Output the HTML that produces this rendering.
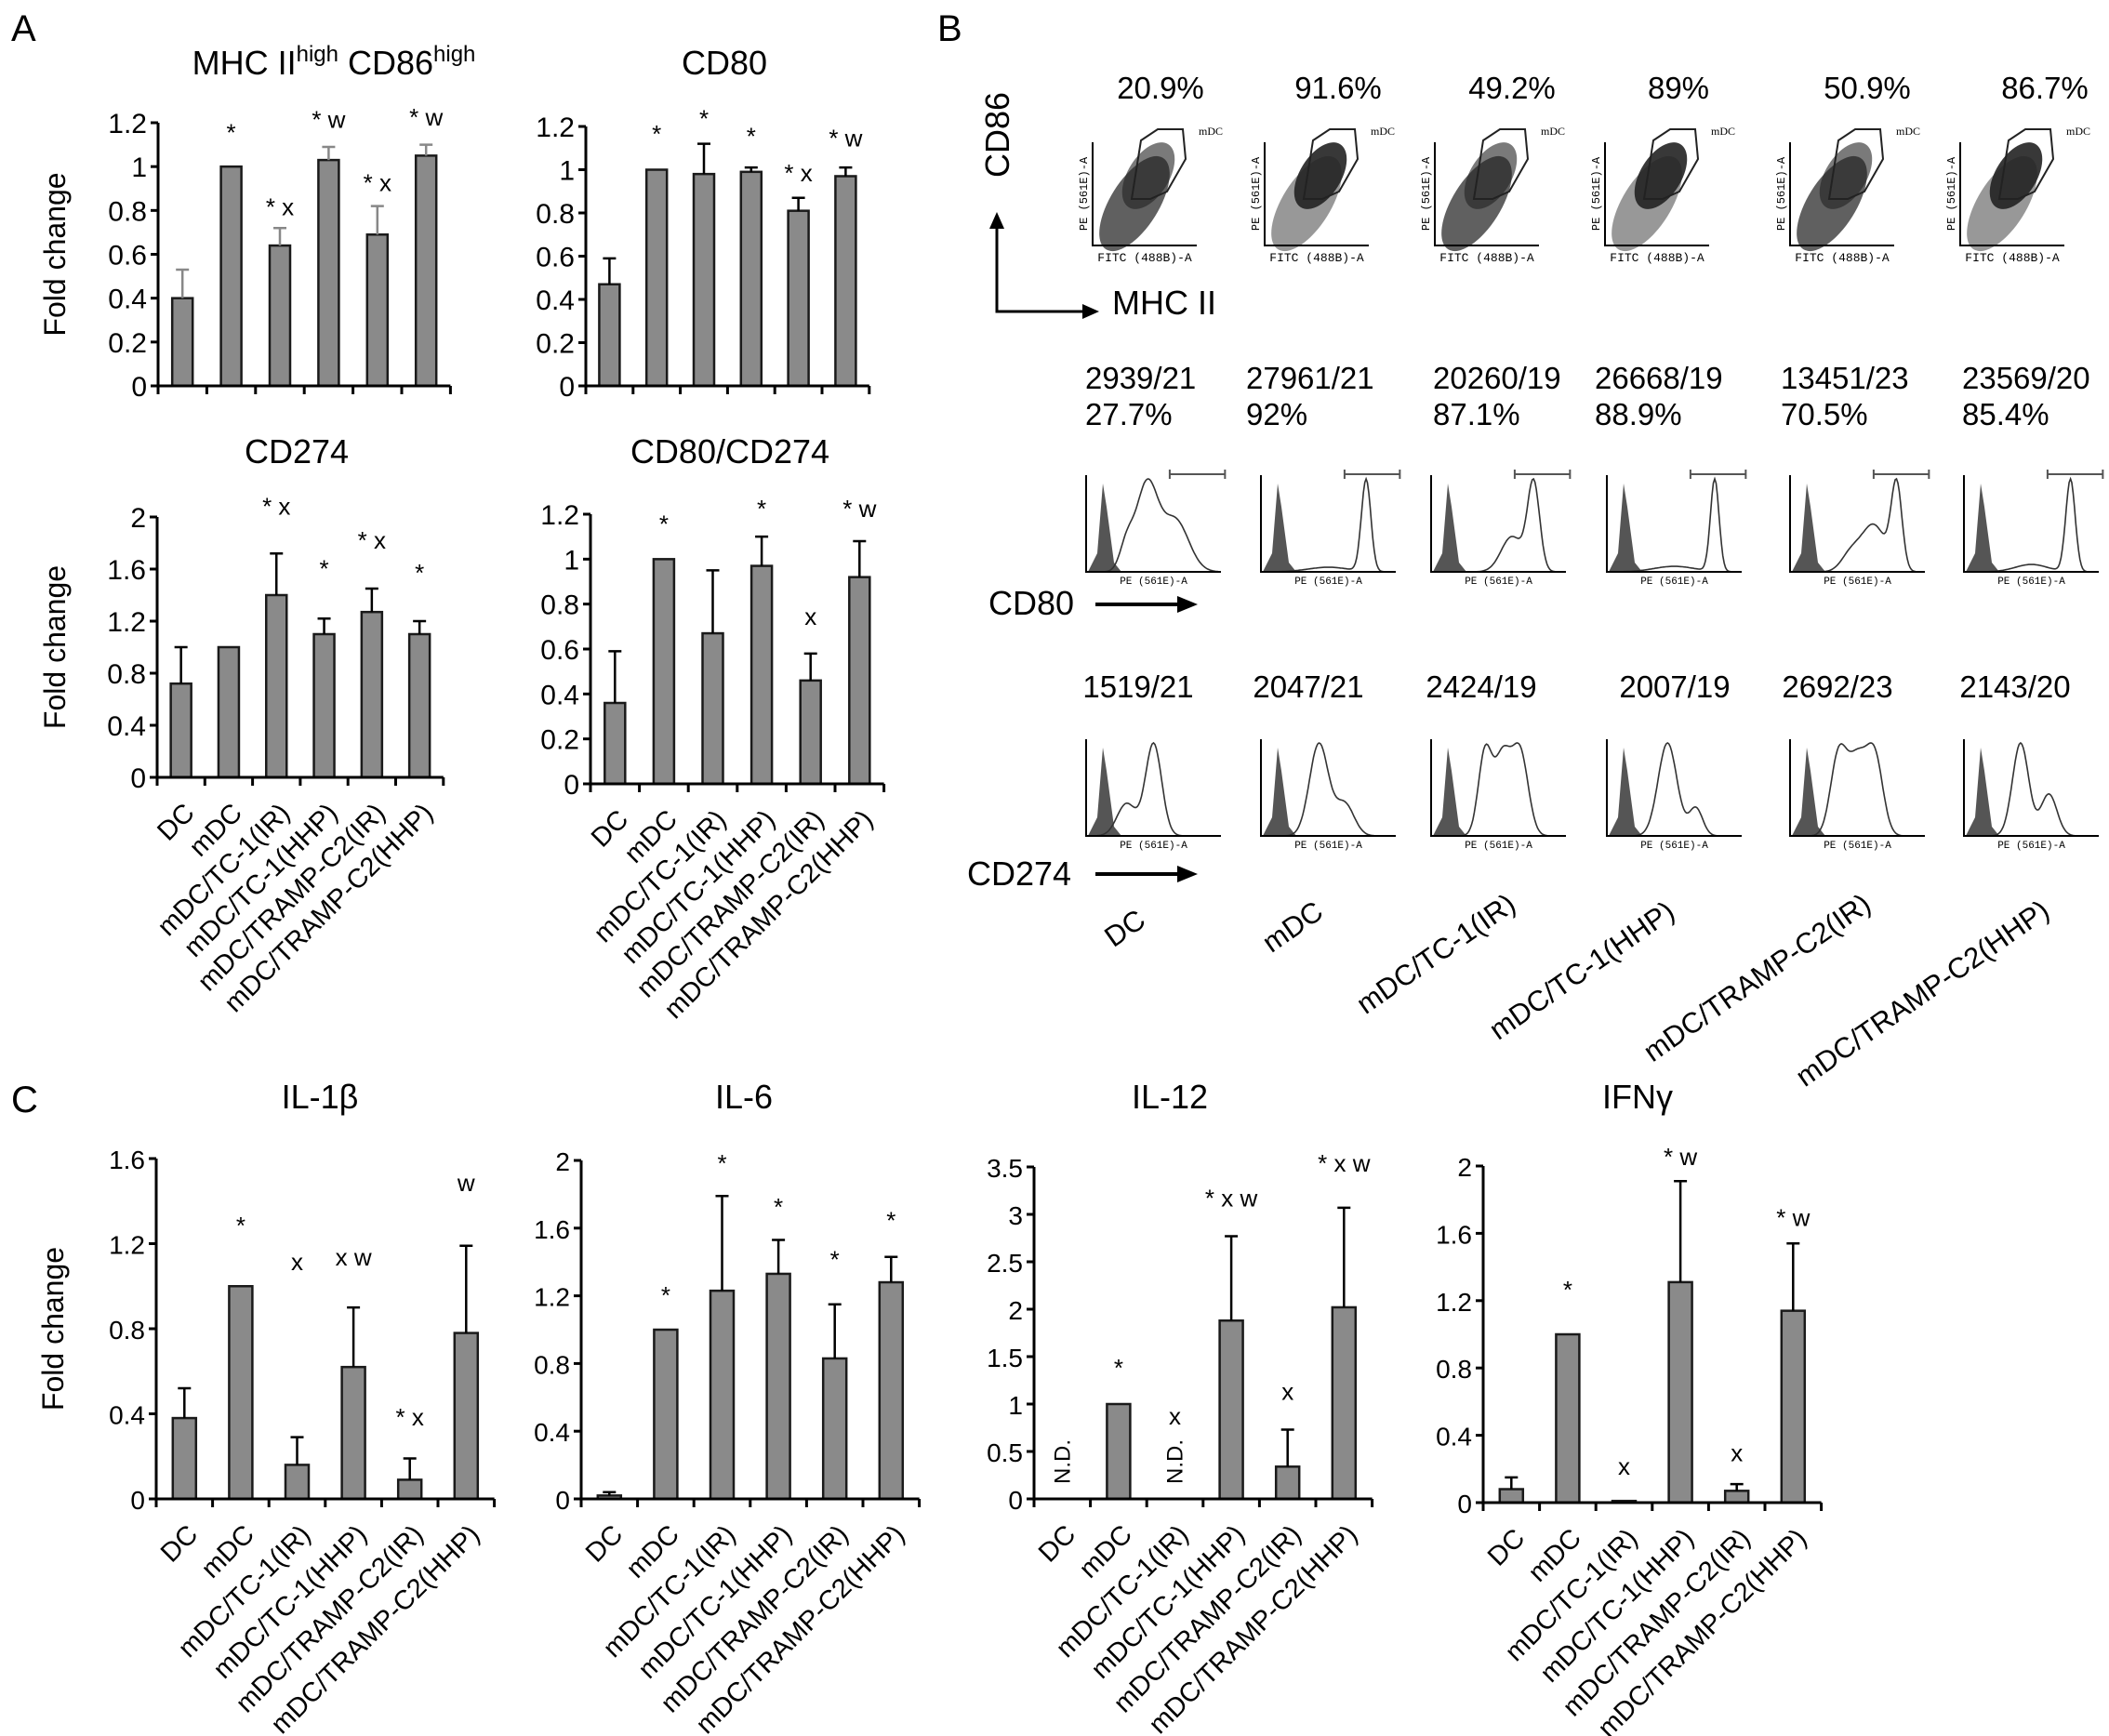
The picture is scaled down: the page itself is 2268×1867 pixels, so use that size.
<!DOCTYPE html>
<html><head><meta charset="utf-8"><style>
html,body{margin:0;padding:0;background:#fff}
svg{display:block;font-family:"Liberation Sans",Arial,sans-serif}
</style></head><body>
<svg id="fig" width="2268" height="1867" viewBox="0 0 2268 1867" xmlns="http://www.w3.org/2000/svg">
<text x="12" y="44" font-size="40">A</text>
<text x="1008" y="44" font-size="40">B</text>
<text x="12" y="1196" font-size="40">C</text>
<g id="charts"></g>
<g id="flow"></g>
</svg>
<script>
// ---------- data ----------
const categories = ["DC","mDC","mDC/TC-1(IR)","mDC/TC-1(HHP)","mDC/TRAMP-C2(IR)","mDC/TRAMP-C2(HHP)"];

const mhcVals = [0.40,1.0,0.64,1.03,0.69,1.05];
const mhcErr  = [0.53,1.0,0.72,1.09,0.82,1.10];
const mhcAnn  = ["","*","* x","* w","* x","* w"];
const mhcAnnY = [0,1.16,0.82,1.22,0.93,1.23];
const mhcTicks = [0,0.2,0.4,0.6,0.8,1,1.2];

const cd80Vals = [0.47,1.0,0.98,0.99,0.81,0.97];
const cd80Err  = [0.59,1.0,1.12,1.01,0.87,1.01];
const cd80Ann  = ["","*","*","*","* x","* w"];
const cd80AnnY = [0,1.17,1.24,1.16,0.99,1.15];
const cd80Ticks = [0,0.2,0.4,0.6,0.8,1,1.2];

const cd274Vals = [0.72,1.0,1.40,1.10,1.27,1.10];
const cd274Err  = [1.0,1.0,1.72,1.22,1.45,1.20];
const cd274Ann  = ["","","* x","*","* x","*"];
const cd274AnnY = [0,0,2.09,1.61,1.83,1.58];
const cd274Ticks = [0,0.4,0.8,1.2,1.6,2];

const ratioVals = [0.36,1.0,0.67,0.97,0.46,0.92];
const ratioErr  = [0.59,1.0,0.95,1.10,0.58,1.08];
const ratioAnn  = ["","*","","*","x","* w"];
const ratioAnnY = [0,1.16,0,1.23,0.75,1.23];
const ratioTicks = [0,0.2,0.4,0.6,0.8,1,1.2];

const il1Vals = [0.38,1.0,0.16,0.62,0.09,0.78];
const il1Err  = [0.52,1.0,0.29,0.90,0.19,1.19];
const il1Ann  = ["","*","x","x w","* x","w"];
const il1AnnY = [0,1.29,1.12,1.14,0.39,1.49];
const il1Ticks = [0,0.4,0.8,1.2,1.6];

const il6Vals = [0.02,1.0,1.23,1.33,0.83,1.28];
const il6Err  = [0.04,1.0,1.79,1.53,1.15,1.43];
const il6Ann  = ["","*","*","*","*","*"];
const il6AnnY = [0,1.21,1.99,1.73,1.42,1.65];
const il6Ticks = [0,0.4,0.8,1.2,1.6,2];

const il12Vals = [0,1.0,0,1.88,0.34,2.02];
const il12Err  = [0,1.0,0,2.77,0.73,3.07];
const il12Ann  = ["","*","x","* x w","x","* x w"];
const il12AnnY = [0,1.39,0.88,3.18,1.14,3.55];
const il12Ticks = [0,0.5,1,1.5,2,2.5,3,3.5];

const ifnVals = [0.08,1.0,0.01,1.31,0.07,1.14];
const ifnErr  = [0.15,1.0,0.01,1.91,0.11,1.54];
const ifnAnn  = ["","*","x","* w","x","* w"];
const ifnAnnY = [0,1.27,0.22,2.06,0.30,1.70];
const ifnTicks = [0,0.4,0.8,1.2,1.6,2];

// flow numbers
const pctTop = ["20.9%","91.6%","49.2%","89%","50.9%","86.7%"];
const cd80Mfi = ["2939/21","27961/21","20260/19","26668/19","13451/23","23569/20"];
const cd80Pct = ["27.7%","92%","87.1%","88.9%","70.5%","85.4%"];
const cd274Mfi = ["1519/21","2047/21","2424/19","2007/19","2692/23","2143/20"];
const cd80Peaks = [
 [[0.45,0.08,1],[0.66,0.1,0.6],[0.3,0.05,0.3]],
 [[0.78,0.035,1],[0.5,0.15,0.05]],
 [[0.76,0.045,1],[0.6,0.08,0.4]],
 [[0.8,0.032,1],[0.5,0.15,0.06]],
 [[0.79,0.04,1],[0.62,0.09,0.55],[0.45,0.07,0.2]],
 [[0.79,0.035,1],[0.5,0.12,0.08]]
];
const cd274Peaks = [
 [[0.5,0.06,1],[0.3,0.07,0.35]],
 [[0.43,0.07,1],[0.62,0.07,0.35]],
 [[0.4,0.05,0.9],[0.53,0.06,0.85],[0.66,0.06,0.9]],
 [[0.45,0.07,1],[0.66,0.05,0.3]],
 [[0.36,0.06,0.9],[0.5,0.07,0.85],[0.63,0.06,0.85]],
 [[0.42,0.06,1],[0.63,0.06,0.45]]
];

// ---------- drawing ----------
const NS="http://www.w3.org/2000/svg";
function mk(tag,attrs,parent){const e=document.createElementNS(NS,tag);for(const k in attrs)e.setAttribute(k,attrs[k]);parent.appendChild(e);return e;}
const charts=document.getElementById('charts');

function drawBar(id,geo,vals,errs,anns,annY,ticks,errColor){
  const g=mk('g',{},charts);
  
  
  const ymax=ticks[ticks.length-1];
  const yS=v=>geo.y0-(v/ymax)*(geo.y0-geo.ytop);
  const xC=i=>geo.x0+geo.sp*(i+0.5);
  const xEnd=geo.x0+geo.sp*6;
  const t=mk('text',{x:geo.tx,y:geo.ty,'font-size':36,'text-anchor':'middle'},g);
  t.textContent=geo.title;
  
  
  if(geo.sup){t.textContent='';t.innerHTML=geo.sup;}
  vals.forEach((v,i)=>{
    if(v>0){
      const r=mk('rect',{x:xC(i)-geo.bw/2,y:yS(v),width:geo.bw,height:geo.y0-yS(v),fill:'#8a8a8a',stroke:'#1a1a1a','stroke-width':2.5},g);
      
      
    }
    if(errs[i]>v+0.001){
      const el=mk('path',{d:`M${xC(i)},${yS(v)}V${yS(errs[i])}M${xC(i)-7},${yS(errs[i])}H${xC(i)+7}`,stroke:errColor,'stroke-width':2.5,fill:'none'},g);
      
      
    }
    if(anns[i]){
      const a=mk('text',{x:xC(i),y:yS(annY[i])+10,'font-size':26,'text-anchor':'middle'},g);
      a.textContent=anns[i];
      
      
    }
    if(!geo.nolabels){
      const lb=mk('text',{x:0,y:0,'font-size':geo.lf,'text-anchor':'end',transform:`translate(${xC(i)+16},${geo.y0+40}) rotate(-45)`},g);
      lb.textContent=categories[i];
      
      
    }
  });
  const ax=mk('path',{d:`M${geo.x0},${yS(ymax)}V${geo.y0}H${xEnd}`,stroke:'#000','stroke-width':3,fill:'none'},g);
  
  
  for(let k=0;k<=6;k++){mk('line',{x1:geo.x0+geo.sp*k,x2:geo.x0+geo.sp*k,y1:geo.y0,y2:geo.y0+9,stroke:'#000','stroke-width':3},g);}
  ticks.forEach(tv=>{
    mk('line',{x1:geo.x0-8,x2:geo.x0,y1:yS(tv),y2:yS(tv),stroke:'#000','stroke-width':3},g);
    const tl=mk('text',{x:geo.x0-12,y:yS(tv)+11,'font-size':geo.tf,'text-anchor':'end'},g);
    tl.textContent=String(tv);
    
    
  });
  if(geo.ylab){
    const yl=mk('text',{x:0,y:0,'font-size':32,'text-anchor':'middle',transform:`translate(${geo.ylx},${(geo.y0+yS(ymax))/2}) rotate(-90)`},g);
    yl.textContent='Fold change';
    
    
  }
  return {g,xC,yS};
}

drawBar('mhc',{x0:170,sp:52.4,bw:22,y0:415,ytop:132,tx:359,ty:80,title:'',sup:'MHC II<tspan font-size="24" dy="-14">high</tspan><tspan dy="14"> CD86</tspan><tspan font-size="24" dy="-14">high</tspan>',lf:29,tf:30,ylab:true,ylx:70,nolabels:true},mhcVals,mhcErr,mhcAnn,mhcAnnY,mhcTicks,'#888');
drawBar('cd80',{x0:630,sp:50.8,bw:22,y0:415,ytop:136,tx:779,ty:80,title:'CD80',lf:29,tf:30,nolabels:true},cd80Vals,cd80Err,cd80Ann,cd80AnnY,cd80Ticks,'#000');
drawBar('cd274',{x0:169,sp:51.3,bw:22,y0:836,ytop:556,tx:319,ty:498,title:'CD274',lf:29,tf:30,ylab:true,ylx:70},cd274Vals,cd274Err,cd274Ann,cd274AnnY,cd274Ticks,'#000');
drawBar('cd80-cd274',{x0:635,sp:52.6,bw:22,y0:843,ytop:553,tx:785,ty:498,title:'CD80/CD274',lf:29,tf:30},ratioVals,ratioErr,ratioAnn,ratioAnnY,ratioTicks,'#000');

drawBar('il1b',{x0:168,sp:60.6,bw:25,y0:1612,ytop:1246,tx:344,ty:1192,title:'IL-1β',lf:29,tf:28,ylab:true,ylx:68},il1Vals,il1Err,il1Ann,il1AnnY,il1Ticks,'#000');
drawBar('il6',{x0:625,sp:60.6,bw:25,y0:1612,ytop:1248,tx:800,ty:1192,title:'IL-6',lf:29,tf:28},il6Vals,il6Err,il6Ann,il6AnnY,il6Ticks,'#000');
const il12=drawBar('il12',{x0:1112,sp:60.6,bw:25,y0:1612,ytop:1255,tx:1258,ty:1192,title:'IL-12',lf:29,tf:28},il12Vals,il12Err,il12Ann,il12AnnY,il12Ticks,'#000');
drawBar('ifng',{x0:1595,sp:60.6,bw:25,y0:1616,ytop:1254,tx:1761,ty:1192,title:'IFNγ',lf:29,tf:28},ifnVals,ifnErr,ifnAnn,ifnAnnY,ifnTicks,'#000');
[0,2].forEach(i=>{
  const nd=mk('text',{x:0,y:0,'font-size':24,'text-anchor':'middle',transform:`translate(${il12.xC(i)+8},1572) rotate(-90)`},il12.g);
  nd.textContent='N.D.';
  
  
});

// ---------- panel B flow ----------
const flow=document.getElementById('flow');
function txt(x,y,s,size,anchor,name,parent,extra){
  const t=mk('text',Object.assign({x:x,y:y,'font-size':size,'text-anchor':anchor||'start'},extra||{}),parent||flow);
  t.textContent=s;
  
  
  return t;
}
const pctX=[1248,1439,1626,1805,2008,2199];
const scatL=[1175,1360,1543,1726,1925,2108];
const r2X=[1167,1340,1541,1715,1915,2110];
const histL=[1168,1356,1539,1728,1925,2112];
const r3X=[1224,1407,1593,1801,1976,2167];
const endPts=[[1248,972],[1439,963],[1646,955],[1817,963],[2028,955],[2220,962]];

pctTop.forEach((s,i)=>txt(pctX[i],106,s,33,'middle','gate-percentage'));
scatL.forEach((L,i)=>{
  const g=mk('g',{},flow);
  
  
  const B=264,T=153,W=112;
  mk('ellipse',{cx:L+45,cy:B-45,rx:58,ry:26,transform:`rotate(-58 ${L+45} ${B-45})`,fill:'#444',opacity:i%2?0.55:0.85},g);
  mk('ellipse',{cx:L+60,cy:B-75,rx:40,ry:22,transform:`rotate(-58 ${L+60} ${B-75})`,fill:'#222',opacity:i%2?0.9:0.6},g);
  mk('path',{d:`M${L+42},${B-50}L${L+52},${T-2}L${L+70},${T-14}L${L+97},${T-14}L${L+100},${T+18}L${L+80},${B-58}L${L+62},${B-50}Z`,fill:'none',stroke:'#222','stroke-width':2},g);
  mk('path',{d:`M${L},${T}V${B}H${L+W}`,stroke:'#000','stroke-width':2,fill:'none'},g);
  txt(L+W+2,T-8,'mDC',12,'start','gate-name',g,{'font-family':'Liberation Serif'});
  txt(L+W/2,B+17,'FITC (488B)-A',13,'middle','x-axis-label',g,{'font-family':'Liberation Mono'});
  txt(0,0,'PE (561E)-A',12,'middle','y-axis-label',g,{'font-family':'Liberation Mono',transform:`translate(${L-6},${(T+B)/2}) rotate(-90)`});
});
txt(0,0,'CD86',36,'middle','y-marker-label',flow,{transform:'translate(1085,145) rotate(-90)'});
mk('path',{d:'M1072,240V335H1168',stroke:'#000','stroke-width':3,fill:'none'},flow);
mk('path',{d:'M1072,228L1064,246H1080Z M1182,335L1164,327V343Z',fill:'#000'},flow);
txt(1196,338,'MHC II',36,'start','x-marker-label');

cd80Mfi.forEach((s,i)=>{txt(r2X[i],418,s,33,'start','cd80-mfi');txt(r2X[i],457,cd80Pct[i],33,'start','cd80-percent');});
cd274Mfi.forEach((s,i)=>txt(r3X[i],750,s,33,'middle','cd274-mfi'));

function hist(L,B,H,peaks,gate,name){
  const g=mk('g',{},flow);
  
  
  const W=145;
  mk('path',{d:`M${L+2},${B}L${L+12},${B-H*0.2}L${L+18},${B-H*0.95}L${L+22},${B-H*0.7}L${L+30},${B-H*0.1}L${L+38},${B}Z`,fill:'#555'},g);
  let d='';let mx=0;const pts=[];
  for(let k=0;k<=100;k++){const f=k/100;let y=0;peaks.forEach(p=>{y+=p[2]*Math.exp(-((f-p[0])**2)/(2*p[1]*p[1]));});pts.push(y);mx=Math.max(mx,y);}
  pts.forEach((y,k)=>{d+=(k?'L':'M')+(L+W*k/100).toFixed(1)+','+(B-H*y/mx).toFixed(1);});
  mk('path',{d:d,fill:'none',stroke:'#333','stroke-width':1.6},g);
  mk('path',{d:`M${L},${B-H-4}V${B}H${L+W}`,stroke:'#000','stroke-width':2,fill:'none'},g);
  txt(L+W/2,B+13,'PE (561E)-A',11,'middle','x-axis-label',g,{'font-family':'Liberation Mono'});
  if(gate){mk('path',{d:`M${L+W*0.62},${B-H-5}H${L+W*1.03}M${L+W*0.62},${B-H-10}V${B-H}M${L+W*1.03},${B-H-10}V${B-H}`,stroke:'#555','stroke-width':2,fill:'none'},g);}
}
histL.forEach((L,i)=>hist(L,615,100,cd80Peaks[i],true,'cd80-histogram-'+i));
histL.forEach((L,i)=>hist(L,899,100,cd274Peaks[i],false,'cd274-histogram-'+i));
txt(1063,661,'CD80',36,'start','cd80-marker-label');
mk('path',{d:'M1178,650H1268',stroke:'#000','stroke-width':4},flow);
mk('path',{d:'M1288,650L1266,641V659Z',fill:'#000'},flow);
txt(1040,952,'CD274',36,'start','cd274-marker-label');
mk('path',{d:'M1178,940H1268',stroke:'#000','stroke-width':4},flow);
mk('path',{d:'M1288,940L1266,931V949Z',fill:'#000'},flow);
categories.forEach((c,i)=>{
  const e=endPts[i];
  txt(0,0,c,31,'end','group-label',flow,{transform:`translate(${e[0]-14},${e[1]+22}) rotate(-35)`});
});
</script>
</body></html>
